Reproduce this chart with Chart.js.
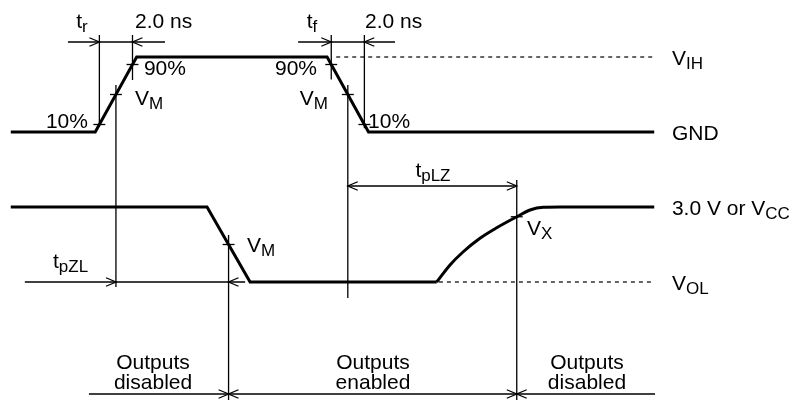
<!DOCTYPE html>
<html lang="en">
  <head>
    <meta charset="UTF-8" />
    <title>Enable / disable timing</title>
  </head>
  <style>
    body{ margin: 0; background: #fff; }
    .mainBox{ width: 795px; height: 400px; }
  </style>
  <body>
    <div class="mainBox">
      <canvas id="myChart_timing" width="795" height="400"></canvas>
    </div>
  </body>
  <script src="https://cdn.jsdelivr.net/npm/chart.js@4/dist/chart.umd.min.js"></script>
  <script>
    // x = time (ns), y = level (V); the input trace sits 6 V above the output trace
    const inputT  = [0.65, 5.75, 8.25, 19.75, 22.25, 39.5];
    const inputV  = [6, 6, 9, 9, 6, 6];

    const outputT = [0.65, 12.5, 15.1, 26.37];
    const outputV = [3, 3, 0, 0];

    // recovery curve of the output after disable
    const curveT  = [26.37, 27.17, 27.97, 28.98, 29.99, 31.2, 32.0, 32.8, 33.8, 39.5];
    const curveV  = [0, 0.68, 1.21, 1.75, 2.17, 2.61, 2.88, 2.99, 3, 3];

    // dashed reference levels: [from, to, level]
    const refLines = [[20.3, 39.5, 9], [26.5, 39.5, 0]];

    // measurement verticals: [time, top, bottom]
    const verticals = [
      [6.0, 9.88, 6.2], [8.0, 9.88, 8.08], [7.0, 7.88, -0.2],
      [20.0, 9.88, 8.1], [22.0, 9.88, 6.15], [21.0, 7.88, -0.64],
      [13.8, 1.88, -4.72], [31.2, 4.08, -4.72]
    ];

    // dimension lines: [from, to, level]
    const dimLines = [
      [4.1, 9.96, 9.6], [18.0, 23.85, 9.6], [1.5, 14.8, 0],
      [21.0, 31.2, 3.84], [5.37, 39.55, -4.48]
    ];

    // arrow tips: [time, level, direction (1 = points right)]
    const arrowTips = [
      [6.0, 9.6, 1], [8.0, 9.6, -1], [20.0, 9.6, 1], [22.0, 9.6, -1],
      [7.0, 0, 1], [13.8, 0, -1], [21.0, 3.84, -1], [31.2, 3.84, 1],
      [13.8, -4.48, 1], [13.8, -4.48, -1], [31.2, -4.48, 1], [31.2, -4.48, -1]
    ];

    // measurement points (10 %, 90 %, VM, VX)
    const markT = [6.0, 8.0, 7.0, 20.0, 21.0, 22.0, 13.8, 31.2];
    const markV = [6.3, 8.7, 7.5, 8.7, 7.5, 6.3, 1.5, 2.61];

    // labels: [text, subscript, time, level, align]
    const labels = [
      ['t', 'r', 4.95, 10.16, 'center'],
      ['2.0 ns', '', 8.15, 10.16, 'left'],
      ['t', 'f', 18.84, 10.16, 'center'],
      ['2.0 ns', '', 22.04, 10.16, 'left'],
      ['90%', '', 8.69, 8.28, 'left'],
      ['V', 'M', 8.15, 7.08, 'left'],
      ['10%', '', 5.31, 6.16, 'right'],
      ['90%', '', 19.14, 8.28, 'right'],
      ['V', 'M', 19.8, 7.08, 'right'],
      ['10%', '', 22.22, 6.16, 'left'],
      ['V', 'IH', 40.57, 8.68, 'left'],
      ['GND', '', 40.57, 5.68, 'left'],
      ['3.0 V or V', 'CC', 40.57, 2.68, 'left'],
      ['V', 'OL', 40.57, -0.32, 'left'],
      ['t', 'pLZ', 26.14, 4.2, 'center'],
      ['t', 'pZL', 3.2, 0.56, 'left'],
      ['V', 'M', 14.91, 1.2, 'left'],
      ['V', 'X', 31.82, 1.88, 'left'],
      ['Outputs', '', 9.24, -3.48, 'center'],
      ['disabled', '', 9.24, -4.28, 'center'],
      ['Outputs', '', 22.52, -3.48, 'center'],
      ['enabled', '', 22.52, -4.28, 'center'],
      ['Outputs', '', 35.44, -3.48, 'center'],
      ['disabled', '', 35.44, -4.28, 'center']
    ];

    function pts(ts, vs){
      return ts.map(function(t, i){ return {x: t, y: vs[i]}; });
    }

    function seg(points, width, dash, smooth){
      return {
        data: points,
        showLine: true,
        borderColor: '#000',
        borderWidth: width,
        borderDash: dash || [],
        pointRadius: 0,
        cubicInterpolationMode: smooth ? 'monotone' : 'default',
        borderCapStyle: 'butt',
        borderJoinStyle: 'miter'
      };
    }

    var datasets = [];
    verticals.forEach(function(d){
      datasets.push(seg([{x: d[0], y: d[1]}, {x: d[0], y: d[2]}], 1.3));
    });
    dimLines.forEach(function(d){
      datasets.push(seg([{x: d[0], y: d[2]}, {x: d[1], y: d[2]}], 1.3));
    });
    arrowTips.forEach(function(a){
      var back = a[0] - a[2] * 0.6;
      datasets.push(seg([{x: back, y: a[1] + 0.17}, {x: a[0], y: a[1]}, {x: back, y: a[1] - 0.17}], 1.3));
    });
    markT.forEach(function(t, i){
      datasets.push(seg([{x: t - 0.36, y: markV[i]}, {x: t + 0.36, y: markV[i]}], 1.3));
    });
    refLines.forEach(function(r){
      datasets.push(seg([{x: r[0], y: r[2]}, {x: r[1], y: r[2]}], 1.2, [4, 4]));
    });
    datasets.push(seg(pts(inputT, inputV), 3));
    datasets.push(seg(pts(outputT, outputV), 3));
    datasets.push(seg(pts(curveT, curveV), 3, null, true));

    const textPlugin = {
      id: 'timingText',
      afterDatasetsDraw: function(chart){
        var ctx = chart.ctx, sx = chart.scales.x, sy = chart.scales.y;
        var mainFont = '21px "Liberation Sans", Arial, sans-serif';
        var subFont = '17px "Liberation Sans", Arial, sans-serif';
        ctx.save();
        ctx.fillStyle = '#000';
        ctx.textBaseline = 'alphabetic';
        ctx.textAlign = 'left';
        labels.forEach(function(l){
          ctx.font = mainFont;
          var w1 = ctx.measureText(l[0]).width;
          ctx.font = subFont;
          var w2 = l[1] ? ctx.measureText(l[1]).width : 0;
          var total = w1 + w2;
          var px = sx.getPixelForValue(l[2]);
          var py = sy.getPixelForValue(l[3]);
          if (l[4] === 'center') px -= total / 2;
          else if (l[4] === 'right') px -= total;
          ctx.font = mainFont;
          ctx.fillText(l[0], px, py);
          if (l[1]) {
            ctx.font = subFont;
            ctx.fillText(l[1], px + w1, py + 4);
          }
        });
        ctx.restore();
      }
    };

    const ctx_timing = document.getElementById('myChart_timing');
    new Chart(ctx_timing, {
      type: 'scatter',
      data: { datasets: datasets },
      options: {
        responsive: false,
        animation: false,
        layout: { padding: 0 },
        plugins: { legend: { display: false }, tooltip: { enabled: false } },
        scales: {
          x: { type: 'linear', min: 0, max: 48, display: false },
          y: { type: 'linear', min: -4.72, max: 11.28, display: false }
        }
      },
      plugins: [textPlugin]
    });
  </script>
</html>
